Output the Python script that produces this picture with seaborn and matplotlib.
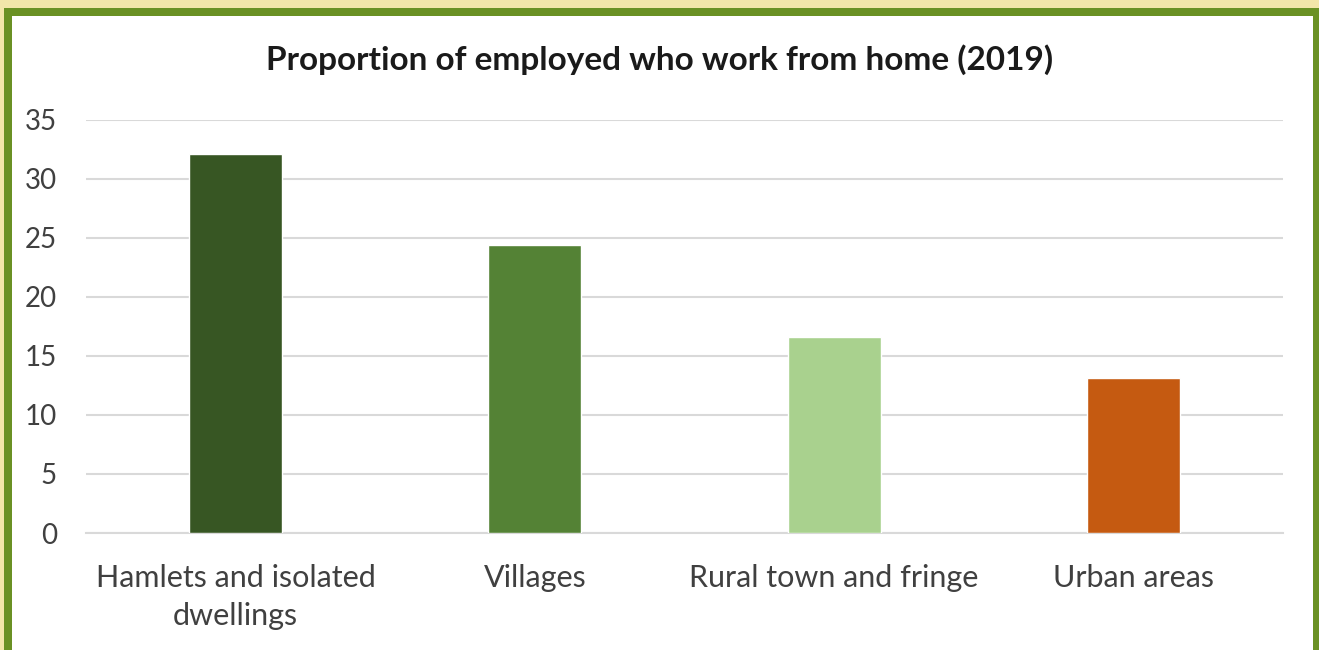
import matplotlib.pyplot as plt
import seaborn as sns
import pandas as pd
from matplotlib.patches import Rectangle

# Data
categories = ['Hamlets and isolated\ndwellings', 'Villages', 'Rural town and fringe', 'Urban areas']
values = [32.1, 24.4, 16.6, 13.1]
colors = ['#375623', '#548235', '#A9D18E', '#C55A11']

df = pd.DataFrame({'area': categories, 'pct': values})

sns.set_theme(style='white')
plt.rcParams['font.family'] = ['Lato', 'DejaVu Sans']

W, H = 1319, 650
fig = plt.figure(figsize=(W / 100, H / 100), dpi=100)
fig.patch.set_facecolor('#F2E6A9')

# green frame and white panel (behind the axes)
fig.patches.append(Rectangle((4 / W, -0.1), 2, 1.1 - 8 / H, transform=fig.transFigure,
                             facecolor='#6A9124', edgecolor='none', zorder=-2))
fig.patches.append(Rectangle((12 / W, -0.1), (1313 - 12) / W, 1.1 - 16 / H, transform=fig.transFigure,
                             facecolor='white', edgecolor='none', zorder=-1))

ax = fig.add_axes([86 / W, 1 - 533 / H, (1283 - 86) / W, (533 - 120) / H])
ax.set_facecolor('none')

sns.barplot(data=df, x='area', y='pct', hue='area', palette=colors, legend=False,
            width=0.31, saturation=1, ax=ax, zorder=3)

ax.set_ylim(0, 35)
ax.set_xlim(-0.5, 3.5)
ax.set_yticks(range(0, 36, 5))
ax.set_xticks(range(len(categories)))
ax.set_xticklabels(categories, linespacing=1.45)
ax.yaxis.grid(True, color='#D9D9D9', linewidth=1.5)
ax.set_axisbelow(True)
for s in ['top', 'right', 'left']:
    ax.spines[s].set_visible(False)
ax.spines['bottom'].set_color('#D9D9D9')
ax.spines['bottom'].set_linewidth(1.5)
ax.tick_params(axis='both', length=0, labelcolor='#404040')
ax.tick_params(axis='y', pad=21, labelsize=20)
ax.tick_params(axis='x', pad=22, labelsize=22)
ax.set_xlabel('')
ax.set_ylabel('')

fig.text(660 / W, 1 - 60 / H, 'Proportion of employed who work from home (2019)',
         ha='center', va='center', fontsize=24, fontweight='bold', color='#1a1a1a')

fig.savefig('out.png', dpi=100, facecolor=fig.get_facecolor())
